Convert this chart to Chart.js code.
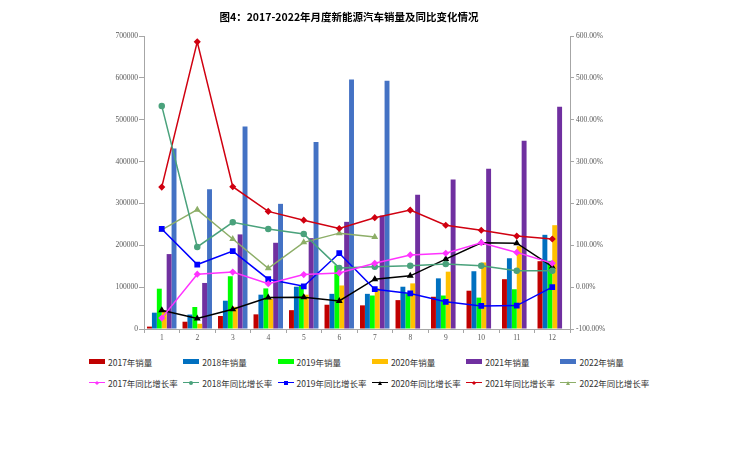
<!DOCTYPE html>
<html lang="zh">
<head>
<meta charset="UTF-8" />
<title>2017-2022年月度新能源汽车销量及同比变化情况</title>
<script src="https://cdn.jsdelivr.net/npm/chart.js"></script>
<style>
  body {
    margin: 0;
    background: #fff;
    font-family: "Noto Sans CJK SC", sans-serif;
  }
  #wrap {
    position: relative;
    width: 744px;
    height: 469px;
  }
  #box {
    position: absolute;
    left: 0;
    top: 0;
    width: 698px;
    height: 350px;
  }
  #legend {
    position: absolute;
    left: 89px;
    top: 351px;
    width: 600px;
  }
  .row {
    display: flex;
    height: 21px;
    align-items: center;
  }
  .item {
    flex: none;
    width: 94.3px;
    display: flex;
    align-items: center;
    font-size: 8.5px;
    color: #333;
    white-space: nowrap;
  }
  .swatch {
    flex: none;
    width: 16px;
    height: 5px;
    margin-right: 3px;
  }
  .line {
    flex: none;
    position: relative;
    width: 16px;
    height: 1px;
    margin-right: 3px;
  }
  .mark {
    position: absolute;
    left: 50%;
    top: 50%;
    width: 4px;
    height: 4px;
    transform: translate(-50%, -50%);
  }
</style>
</head>
<body>
<div id="wrap">
  <div id="box"><canvas id="salesChart"></canvas></div>
  <div id="legend"></div>
</div>
<script>
  const titleText = "图4：2017-2022年月度新能源汽车销量及同比变化情况";
  const months = ["1", "2", "3", "4", "5", "6", "7", "8", "9", "10", "11", "12"];

  // monthly sales (辆)
  const sales2017 = [5700, 17400, 31000, 35000, 45000, 58000, 56500, 69000, 77000, 91500, 119000, 162000];
  const sales2018 = [39000, 34500, 67600, 82000, 101000, 84000, 84000, 101000, 121000, 138000, 169000, 225000];
  const sales2019 = [96300, 52500, 126000, 97000, 104000, 152000, 80000, 85000, 80000, 75000, 95000, 163000];
  const sales2020 = [44000, 12500, 53000, 72000, 82000, 104000, 97000, 109000, 137000, 159000, 198000, 248000];
  const sales2021 = [179000, 110000, 226000, 206000, 217000, 256000, 271000, 321000, 357000, 383000, 450000, 531000];
  const sales2022 = [431000, 334000, 484000, 299000, 447000, 596000, 593000, null, null, null, null, null];

  // year-on-year growth (%)
  const yoy2017 = [-74, 31, 36, 8, 30, 34, 57, 77, 81, 106, 83, 57];
  const yoy2018 = [433, 96, 155, 139, 127, 46, 49, 51, 55, 51, 39, 39];
  const yoy2019 = [139, 54, 86, 19, 2, 81, -5, -15, -35, -45, -44, 0];
  const yoy2020 = [-55, -75, -53, -25, -24, -33, 19, 27, 67, 106, 105, 49];
  const yoy2021 = [239, 586, 240, 181, 160, 140, 166, 184, 148, 136, 122, 115];
  const yoy2022 = [137, 185, 115, 45, 107, 129, 120, null, null, null, null, null];

  const leftTicks = { min: 0, max: 700000, step: 100000 };
  const rightTicks = { min: -100, max: 600, step: 100 };

  const tickFont = { family: "Liberation Serif", size: 7.5 };
  const tickColor = "#595959";
  const axisColor = "#A6A6A6";

  function bar(label, data, color) {
    return {
      type: "bar",
      label: label,
      data: data,
      backgroundColor: color,
      yAxisID: "y",
      order: 2,
      categoryPercentage: 0.83,
      barPercentage: 1,
    };
  }

  function line(label, data, color, style) {
    return {
      type: "line",
      label: label,
      data: data,
      borderColor: color,
      backgroundColor: color,
      borderWidth: 1.5,
      pointStyle: style,
      pointRadius: style === "rect" ? 3 : 2.5,
      yAxisID: "y1",
      order: 1,
      tension: 0,
      fill: false,
    };
  }

  const ctx = document.getElementById("salesChart").getContext("2d");

  const chart = new Chart(ctx, {
    type: "bar",
    data: {
      labels: months,
      datasets: [
        bar("2017年销量", sales2017, "#C00000"),
        bar("2018年销量", sales2018, "#0070C0"),
        bar("2019年销量", sales2019, "#00FF00"),
        bar("2020年销量", sales2020, "#FFC000"),
        bar("2021年销量", sales2021, "#7030A0"),
        bar("2022年销量", sales2022, "#4472C4"),
        line("2017年同比增长率", yoy2017, "#FF33FF", "rectRot"),
        line("2018年同比增长率", yoy2018, "#4AA27C", "circle"),
        line("2019年同比增长率", yoy2019, "#0000FF", "rect"),
        line("2020年同比增长率", yoy2020, "#000000", "triangle"),
        line("2021年同比增长率", yoy2021, "#D00010", "rectRot"),
        line("2022年同比增长率", yoy2022, "#8DAE68", "triangle"),
      ],
    },
    options: {
      responsive: true,
      maintainAspectRatio: false,
      animation: false,
      layout: { padding: 0 },
      plugins: {
        legend: { display: false },
        tooltip: { enabled: false },
        title: {
          display: true,
          text: titleText,
          color: "#000",
          font: { family: "Noto Sans CJK SC", size: 10.5, weight: "bold" },
          padding: { top: 10.7, bottom: 12.7 },
        },
      },
      scales: {
        x: {
          offset: true,
          grid: {
            display: true,
            drawOnChartArea: false,
            offset: true,
            tickLength: 4,
            color: axisColor,
          },
          border: { color: axisColor },
          ticks: { font: tickFont, color: tickColor, padding: 1 },
          afterFit: (s) => { s.height = 21; },
        },
        y: {
          position: "left",
          min: leftTicks.min,
          max: leftTicks.max,
          grid: { drawOnChartArea: false, tickLength: 5, color: axisColor },
          border: { color: axisColor },
          ticks: {
            stepSize: leftTicks.step,
            font: tickFont,
            color: tickColor,
            padding: 1,
            callback: (v) => String(v),
          },
          afterFit: (s) => { s.width = 144; },
        },
        y1: {
          position: "right",
          min: rightTicks.min,
          max: rightTicks.max,
          grid: { drawOnChartArea: false, tickLength: 4, color: axisColor },
          border: { color: axisColor },
          ticks: {
            stepSize: rightTicks.step,
            font: tickFont,
            color: tickColor,
            padding: 2,
            callback: (v) => v.toFixed(2) + "%",
          },
          afterFit: (s) => { s.width = 128; },
        },
      },
    },
  });

  // legend in two rows: bars first, then lines
  function buildLegend() {
    const legend = document.getElementById("legend");
    const rows = [document.createElement("div"), document.createElement("div")];
    rows.forEach((r) => { r.className = "row"; legend.appendChild(r); });

    chart.data.datasets.forEach((ds) => {
      const item = document.createElement("div");
      item.className = "item";
      if (ds.type === "bar") {
        const sw = document.createElement("span");
        sw.className = "swatch";
        sw.style.backgroundColor = ds.backgroundColor;
        item.appendChild(sw);
      } else {
        const ln = document.createElement("span");
        ln.className = "line";
        ln.style.backgroundColor = ds.borderColor;
        const mk = document.createElement("span");
        mk.className = "mark";
        if (ds.pointStyle === "circle") {
          mk.style.backgroundColor = ds.borderColor;
          mk.style.borderRadius = "50%";
        } else if (ds.pointStyle === "rect") {
          mk.style.backgroundColor = ds.borderColor;
        } else if (ds.pointStyle === "rectRot") {
          mk.style.backgroundColor = ds.borderColor;
          mk.style.width = "3px";
          mk.style.height = "3px";
          mk.style.transform = "translate(-50%, -50%) rotate(45deg)";
        } else {
          mk.style.width = "0";
          mk.style.height = "0";
          mk.style.borderLeft = "2.5px solid transparent";
          mk.style.borderRight = "2.5px solid transparent";
          mk.style.borderBottom = "4px solid " + ds.borderColor;
        }
        ln.appendChild(mk);
        item.appendChild(ln);
      }
      const txt = document.createElement("span");
      txt.textContent = ds.label;
      item.appendChild(txt);
      rows[ds.type === "bar" ? 0 : 1].appendChild(item);
    });
  }

  buildLegend();
</script>
</body>
</html>
